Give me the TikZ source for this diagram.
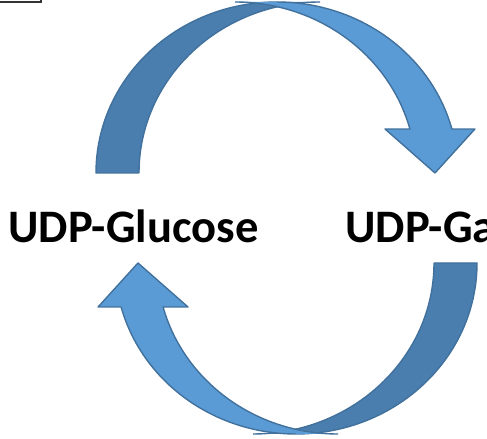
\documentclass[tikz,border=0pt]{standalone}
\usepackage{fontspec}
\setmainfont{Carlito}

\definecolor{frontblue}{HTML}{5B9BD5}
\definecolor{backblue}{HTML}{4A7EAE}
\definecolor{edgeblue}{HTML}{41719C}

\newcommand\halfturn{
	\fill[back] (96,266) arc[start angle=180, end angle=90, x radius=181, y radius=171]
		-- (320,437) arc[start angle=90, end angle=180, x radius=181, y radius=171] -- cycle;
	\draw[rim] (139,266) -- (96,266) arc[start angle=180, end angle=90, x radius=181, y radius=171];
	\draw[rim] (320,437) arc[start angle=90, end angle=180, x radius=181, y radius=171];
	\fill[front] (235,437) -- (277,437)
		arc[start angle=90, end angle=14.9, x radius=181, y radius=171]
		-- ++(23,0) -- (435,266) -- (385,310)
		-- ([shift={(235,266)}]14.9:181 and 171)
		arc[start angle=14.9, end angle=90, x radius=181, y radius=171] -- cycle;
	\draw[rim] (277,437)
		arc[start angle=90, end angle=14.9, x radius=181, y radius=171]
		-- ++(23,0) -- (435,266) -- (385,310)
		-- ([shift={(235,266)}]14.9:181 and 171)
		arc[start angle=14.9, end angle=90, x radius=181, y radius=171];
}

\begin{document}
\begin{tikzpicture}[x=0.02cm, y=0.02cm,
		back/.style={fill=backblue},
		front/.style={fill=frontblue},
		rim/.style={draw=edgeblue, line width=0.8pt, line join=round},
		sugar/.style={inner sep=0pt, anchor=base west, font=\fontsize{26.5}{30}\selectfont\bfseries}]
				\useasboundingbox (0,0) rectangle (487,439);
				\node[draw=black!80, line width=1pt, minimum width=60, minimum height=20, anchor=south east, inner sep=0pt] (box) at (42,436) {};
				\halfturn
				\begin{scope}[rotate around={180:(286.5,221)}]
					\halfturn
				\end{scope}
				\node[sugar] (glc) at (8,196) {UDP-Glucose};
				\node[sugar] (gal) at (345,196) {UDP-Galactose};
			\end{tikzpicture}
\end{document}
